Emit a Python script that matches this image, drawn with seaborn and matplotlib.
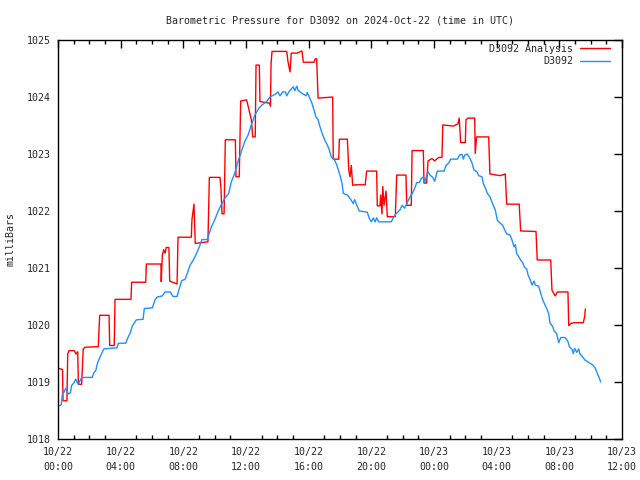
import matplotlib
matplotlib.use("Agg")
import matplotlib.pyplot as plt
from matplotlib.ticker import MultipleLocator
import pandas as pd
import seaborn as sns

# hours since 2024-10-22 00:00 UTC
analysis_hours = [
    0.02, 0.29, 0.32, 0.57, 0.62, 0.70, 1.04, 1.15, 1.26, 1.30, 1.51, 1.61, 1.72,
    2.57, 2.66, 3.26, 3.30, 3.59, 3.64, 4.66, 4.70, 5.60, 5.64, 6.57, 6.59, 6.66,
    6.75, 6.83, 6.91, 7.08, 7.13, 7.60, 7.66, 8.51, 8.55, 8.68, 8.76, 9.57, 9.66,
    10.34, 10.40, 10.47, 10.60, 10.68, 11.32, 11.36, 11.57, 11.66, 12.04, 12.34,
    12.43, 12.59, 12.64, 12.85, 12.89, 13.53, 13.56, 13.60, 13.66, 14.60, 14.68,
    14.81, 14.89, 15.27, 15.57, 15.66, 16.34, 16.42, 16.51, 16.60, 17.53, 17.57,
    17.92, 17.96, 18.47, 18.56, 18.64, 18.72, 18.81, 18.96, 19.61, 19.70, 20.34,
    20.38, 20.55, 20.60, 20.68, 20.73, 20.81, 20.94, 21.02, 21.53, 21.62, 22.21,
    22.26, 22.55, 22.60, 23.32, 23.36, 23.53, 23.62, 23.87, 24.04, 24.30, 24.51,
    24.56, 25.23, 25.53, 25.61, 25.70, 26.00, 26.04, 26.17, 26.60, 26.63, 26.72,
    27.49, 27.57, 28.21, 28.55, 28.64, 29.44, 29.53, 30.51, 30.59, 31.45, 31.53,
    31.74, 31.87, 32.55, 32.60, 32.76, 32.94, 33.53, 33.62, 33.66,
]
analysis_mb = [
    1019.24, 1019.22, 1018.67, 1018.67, 1019.49, 1019.55, 1019.55, 1019.49, 1019.53,
    1018.96, 1018.96, 1019.58, 1019.61, 1019.62, 1020.17, 1020.17, 1019.64, 1019.64,
    1020.45, 1020.45, 1020.75, 1020.75, 1021.07, 1021.07, 1020.76, 1021.23, 1021.32,
    1021.26, 1021.36, 1021.36, 1020.77, 1020.72, 1021.54, 1021.54, 1021.85, 1022.12,
    1021.43, 1021.46, 1022.59, 1022.59, 1022.40, 1021.95, 1021.95, 1023.25, 1023.25,
    1022.60, 1022.60, 1023.93, 1023.95, 1023.60, 1023.30, 1023.30, 1024.56, 1024.56,
    1023.92, 1023.89, 1023.84, 1024.59, 1024.80, 1024.80, 1024.62, 1024.44, 1024.77,
    1024.77, 1024.81, 1024.61, 1024.61, 1024.67, 1024.67, 1023.98, 1024.00, 1022.91,
    1022.91, 1023.26, 1023.26, 1022.72, 1022.60, 1022.80, 1022.45, 1022.46, 1022.46,
    1022.70, 1022.70, 1022.09, 1022.09, 1022.28, 1021.95, 1022.43, 1022.10, 1022.35,
    1021.90, 1021.90, 1022.63, 1022.63, 1022.10, 1022.10, 1023.06, 1023.06, 1022.49,
    1022.49, 1022.88, 1022.92, 1022.88, 1022.94, 1022.94, 1023.51, 1023.49, 1023.53,
    1023.63, 1023.20, 1023.20, 1023.60, 1023.63, 1023.63, 1023.01, 1023.30, 1023.30,
    1022.65, 1022.62, 1022.65, 1022.12, 1022.12, 1021.65, 1021.64, 1021.14, 1021.14,
    1020.61, 1020.51, 1020.58, 1020.58, 1019.99, 1020.03, 1020.04, 1020.04, 1020.15,
    1020.28,
]

station_hours = [
    0.06, 0.21, 0.27, 0.40, 0.49, 0.57, 0.66, 0.79, 0.87, 1.00, 1.13, 1.21, 1.30,
    1.42, 1.51, 2.19, 2.28, 2.41, 2.53, 2.66, 2.79, 2.92, 3.77, 3.85, 4.32, 4.45,
    4.61, 4.74, 5.00, 5.43, 5.51, 6.02, 6.19, 6.32, 6.66, 6.83, 7.17, 7.34, 7.60,
    7.72, 7.90, 8.11, 8.27, 8.43, 8.64, 8.85, 9.06, 9.19, 9.53, 9.62, 9.79, 10.00,
    10.21, 10.42, 10.64, 10.90, 11.06, 11.28, 11.49, 11.70, 11.92, 12.13, 12.34,
    12.56, 12.81, 13.02, 13.32, 13.53, 13.87, 14.04, 14.17, 14.34, 14.51, 14.60,
    14.73, 15.02, 15.11, 15.24, 15.32, 15.49, 15.66, 15.83, 15.91, 16.04, 16.21,
    16.34, 16.47, 16.60, 16.72, 16.85, 17.02, 17.19, 17.32, 17.44, 17.66, 17.79,
    17.96, 18.13, 18.21, 18.47, 18.64, 18.85, 18.94, 19.07, 19.23, 19.74, 19.87,
    20.00, 20.13, 20.25, 20.34, 20.47, 21.27, 21.40, 21.57, 21.83, 21.96, 22.13,
    22.26, 22.47, 22.60, 22.77, 22.90, 23.06, 23.19, 23.32, 23.41, 23.53, 23.62,
    23.74, 23.92, 24.04, 24.13, 24.21, 24.64, 24.77, 24.94, 25.06, 25.49, 25.66,
    25.79, 25.87, 25.96, 26.12, 26.30, 26.43, 26.55, 26.76, 26.85, 27.06, 27.15,
    27.27, 27.40, 27.57, 27.75, 27.91, 28.04, 28.21, 28.38, 28.51, 28.64, 28.85,
    28.98, 29.11, 29.19, 29.28, 29.41, 29.53, 29.66, 29.79, 29.92, 30.00, 30.13,
    30.26, 30.38, 30.47, 30.68, 30.81, 30.94, 31.06, 31.19, 31.32, 31.40, 31.58,
    31.66, 31.83, 31.96, 32.09, 32.38, 32.55, 32.64, 32.81, 32.89, 32.98, 33.11,
    33.24, 33.32, 33.49, 33.62, 33.78, 33.96, 34.13, 34.30, 34.42, 34.55, 34.64,
]
station_mb = [
    1018.58, 1018.60, 1018.77, 1018.83, 1018.89, 1018.85, 1018.79, 1018.81, 1018.94,
    1018.98, 1019.05, 1019.00, 1018.96, 1019.03, 1019.08, 1019.08, 1019.16, 1019.20,
    1019.34, 1019.42, 1019.50, 1019.58, 1019.60, 1019.68, 1019.68, 1019.77, 1019.86,
    1019.98, 1020.09, 1020.10, 1020.29, 1020.30, 1020.44, 1020.49, 1020.51, 1020.58,
    1020.58, 1020.50, 1020.50, 1020.62, 1020.78, 1020.80, 1020.92, 1021.05, 1021.14,
    1021.26, 1021.40, 1021.50, 1021.50, 1021.58, 1021.72, 1021.84, 1021.99, 1022.11,
    1022.22, 1022.31, 1022.51, 1022.66, 1022.87, 1023.04, 1023.22, 1023.33, 1023.51,
    1023.68, 1023.80, 1023.86, 1023.92, 1024.00, 1024.05, 1024.09, 1024.02, 1024.09,
    1024.09, 1024.02, 1024.09, 1024.18, 1024.11, 1024.19, 1024.12, 1024.08, 1024.05,
    1024.02, 1024.08, 1024.00, 1023.89, 1023.77, 1023.65, 1023.60, 1023.48, 1023.37,
    1023.25, 1023.16, 1023.07, 1022.95, 1022.89, 1022.81, 1022.66, 1022.49, 1022.31,
    1022.28, 1022.22, 1022.13, 1022.20, 1022.10, 1022.00, 1021.98, 1021.87, 1021.81,
    1021.88, 1021.81, 1021.88, 1021.81, 1021.81, 1021.88, 1021.95, 1022.02, 1022.10,
    1022.05, 1022.13, 1022.25, 1022.30, 1022.40, 1022.50, 1022.50, 1022.57, 1022.60,
    1022.50, 1022.62, 1022.69, 1022.63, 1022.59, 1022.52, 1022.61, 1022.70, 1022.70,
    1022.80, 1022.84, 1022.91, 1022.91, 1022.99, 1022.99, 1022.91, 1022.98, 1023.00,
    1022.92, 1022.84, 1022.72, 1022.68, 1022.62, 1022.60, 1022.48, 1022.41, 1022.31,
    1022.25, 1022.12, 1022.02, 1021.84, 1021.79, 1021.75, 1021.67, 1021.60, 1021.58,
    1021.49, 1021.37, 1021.41, 1021.25, 1021.20, 1021.14, 1021.09, 1021.01, 1020.98,
    1020.88, 1020.80, 1020.70, 1020.77, 1020.70, 1020.68, 1020.56, 1020.44, 1020.37,
    1020.29, 1020.20, 1020.04, 1019.97, 1019.90, 1019.85, 1019.69, 1019.78, 1019.78,
    1019.71, 1019.62, 1019.57, 1019.50, 1019.59, 1019.52, 1019.58, 1019.49, 1019.44,
    1019.39, 1019.36, 1019.33, 1019.30, 1019.24, 1019.15, 1019.07, 1019.00,
]

x_tick_hours = [0, 4, 8, 12, 16, 20, 24, 28, 32, 36]
x_tick_labels = ["10/22\n00:00", "10/22\n04:00", "10/22\n08:00", "10/22\n12:00",
                 "10/22\n16:00", "10/22\n20:00", "10/23\n00:00", "10/23\n04:00",
                 "10/23\n08:00", "10/23\n12:00"]
y_ticks = [1018, 1019, 1020, 1021, 1022, 1023, 1024, 1025]

FS = 7.2

sns.set_style("white")
plt.rcParams.update({
    "font.family": ["DejaVu Sans Mono"],
    "font.size": FS,
    "axes.edgecolor": "black",
    "axes.linewidth": 1.0,
})

fig = plt.figure(figsize=(6.4, 4.8), dpi=100)
ax = fig.add_axes([58 / 640, 41 / 480, 564 / 640, 399 / 480])

analysis = pd.DataFrame({"hour": analysis_hours, "mb": analysis_mb})
station = pd.DataFrame({"hour": station_hours, "mb": station_mb})

sns.lineplot(data=analysis, x="hour", y="mb", ax=ax, color="#ff0000", linewidth=1.0,
             sort=False, estimator=None, label="D3092 Analysis")
sns.lineplot(data=station, x="hour", y="mb", ax=ax, color="#1e90ff", linewidth=1.0,
             sort=False, estimator=None, label="D3092")

ax.set_xlim(0, 36)
ax.set_ylim(1018, 1025)
ax.set_xticks(x_tick_hours)
ax.set_xticklabels(x_tick_labels, linespacing=1.6)
ax.xaxis.set_minor_locator(MultipleLocator(1))
ax.set_yticks(y_ticks)
ax.tick_params(axis="both", which="major", direction="in", length=6, width=1,
               top=True, right=True, labelsize=FS, color="black")
ax.tick_params(axis="x", which="major", pad=6)
ax.tick_params(axis="y", which="major", pad=5)
ax.tick_params(axis="x", which="minor", direction="in", length=3, width=1,
               top=True, bottom=True, color="black")
for s in ax.spines.values():
    s.set_visible(True)
    s.set_color("black")

ax.set_xlabel("")
ax.set_ylabel("milliBars", fontsize=FS, labelpad=8)
ax.set_title("Barometric Pressure for D3092 on 2024-Oct-22 (time in UTC)", fontsize=FS, pad=12)

ax.legend(loc="upper right", bbox_to_anchor=(1 - 12 / 564, 1 - 4 / 399),
          frameon=False, markerfirst=False, fontsize=FS,
          handlelength=3.0, handletextpad=0.7, borderaxespad=0.0, borderpad=0.0,
          labelspacing=0.25)

fig.savefig("out.png", dpi=100)
